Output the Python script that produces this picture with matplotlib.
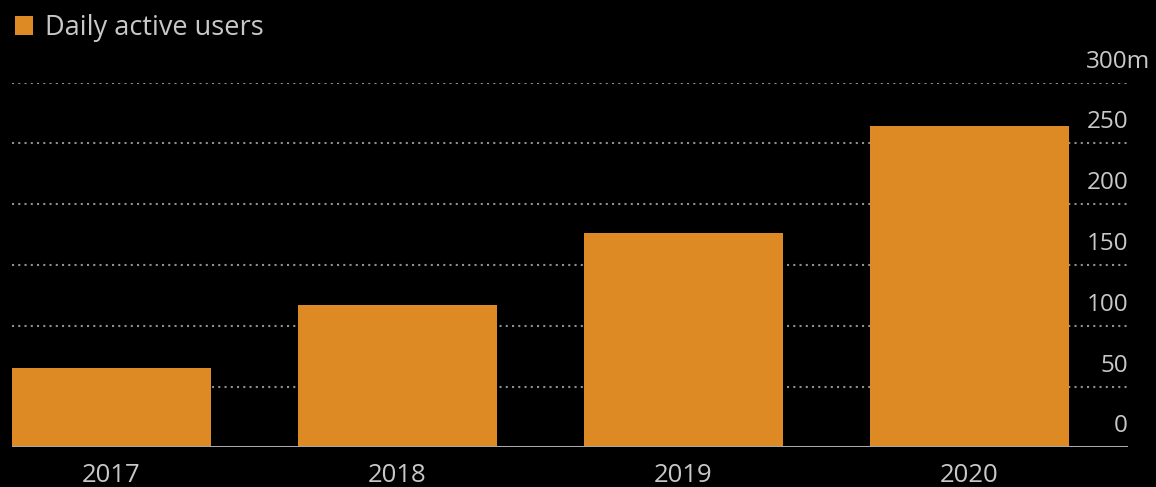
import matplotlib.pyplot as plt
import matplotlib.transforms as mtransforms

# data (millions)
years = ["2017", "2018", "2019", "2020"]
dau = [65, 117, 176, 264]
y_ticks = [0, 50, 100, 150, 200, 250, 300]
y_labels = ["0", "50", "100", "150", "200", "250", "300m"]

bar_color = "#DD8A25"
text_color = "#c8c8c8"
plt.rcParams['font.family'] = ['Open Sans', 'DejaVu Sans']

W, H = 1156, 487
fig = plt.figure(figsize=(W / 100, H / 100), dpi=100, facecolor="black")
ax = fig.add_axes([12 / W, (H - 447.3) / H, (1128 - 12) / W, (447.3 - 82.7) / H])
ax.set_facecolor("black")

x = range(len(years))
ax.bar(x, dau, width=0.696, color=bar_color, zorder=3, label="Daily active users")
ax.set_xlim(-0.348, 3.554)
ax.set_ylim(0, 300)

# dotted gridlines
for v in y_ticks[1:]:
    ax.axhline(v, color="#8f8f8f", lw=1.5, ls=(0, (1, 2)), zorder=1)
ax.axhline(0, color="#a8a8a8", lw=2.2, zorder=4)

for s in ax.spines.values():
    s.set_visible(False)
ax.set_yticks([])
ax.set_xticks(list(x))
ax.set_xticklabels(years, color=text_color, fontsize=18.5)
ax.tick_params(axis="x", length=0, pad=11)

# y labels sit above the gridlines on the right
off = mtransforms.offset_copy(ax.get_yaxis_transform(), fig=fig, x=0, y=15, units="dots")
for v, lbl in zip(y_ticks, y_labels):
    if lbl.endswith("m"):
        off2 = mtransforms.offset_copy(ax.get_yaxis_transform(), fig=fig, x=22, y=15, units="dots")
        ax.text(1.0, v, lbl, transform=off2, ha="right", va="baseline",
                color=text_color, fontsize=17.5, clip_on=False)
    else:
        ax.text(1.0, v, lbl, transform=off, ha="right", va="baseline",
                color=text_color, fontsize=17.5, clip_on=False)

leg = fig.legend(loc="upper left", bbox_to_anchor=(15 / W, 1 - 14 / H), frameon=False,
                 fontsize=19.5, handlelength=0.65, handleheight=0.65, handletextpad=0.45,
                 borderaxespad=0, borderpad=0)
for t in leg.get_texts():
    t.set_color(text_color)

fig.savefig("out.png", dpi=100, facecolor="black")
